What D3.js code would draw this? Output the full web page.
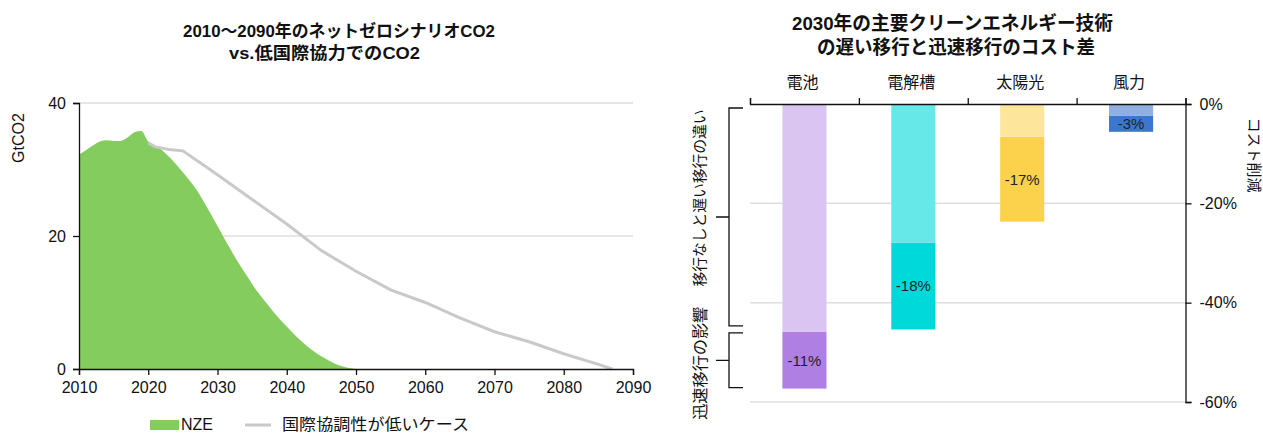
<!DOCTYPE html>
<html><head><meta charset="utf-8">
<script src="https://cdn.jsdelivr.net/npm/d3@7"></script>
<style>
html,body{margin:0;padding:0;background:#fff;}
svg{display:block;font-family:"Liberation Sans","Noto Sans CJK JP",sans-serif;}
</style></head>
<body>
<svg id="chart" width="1263" height="434"></svg>
<script>
// ---------- Left chart data ----------
const nzeYears = [2010,2011,2012,2013,2014,2015,2016,2017,2018,2019,2020,2021,2022,2023,2024,2025,2026,2027,2028,2029,2030,2031,2032,2033,2034,2035,2036,2037,2038,2039,2040,2041,2042,2043,2044,2045,2046,2047,2048,2049,2050];
const nzeValues = [32.2,32.9,33.6,34.2,34.4,34.3,34.3,34.8,35.6,35.8,34.2,33.6,32.9,31.9,30.8,29.6,28.3,26.9,25.2,23.4,21.5,19.6,17.8,16.0,14.4,12.8,11.3,10.0,8.7,7.5,6.4,5.3,4.3,3.4,2.6,1.9,1.3,0.8,0.4,0.15,0];
const lowCoopYears = [2020,2021,2023,2025,2030,2035,2040,2045,2050,2055,2060,2065,2070,2075,2080,2085,2087];
const lowCoopValues = [34.0,33.4,33.0,32.8,29.2,25.5,21.8,17.8,14.7,11.9,10.0,7.7,5.6,4.1,2.3,0.7,0];
const leftXTicks = [2010,2020,2030,2040,2050,2060,2070,2080,2090];
const leftYTicks = [0,20,40];
const leftTitle = ["2010～2090年のネットゼロシナリオCO2","vs.低国際協力でのCO2"];
const leftYLabel = "GtCO2";
const leftLegend = ["NZE","国際協調性が低いケース"];

// ---------- Right chart data ----------
const techCategories = ["電池","電解槽","太陽光","風力"];
const slowTransition = [-45.9,-27.9,-6.6,-2.4];
const rapidTransition = [-57.3,-45.4,-23.7,-5.6];
const rapidLabels = ["-11%","-18%","-17%","-3%"];
const rightYTicks = [0,-20,-40,-60];
const rightTitle = ["2030年の主要クリーンエネルギー技術","の遅い移行と迅速移行のコスト差"];
const bracketLabels = ["移行なしと遅い移行の違い","迅速移行の影響"];
const rightYLabel = "コスト削減";

const lightColors = ["#dac4f1","#66e8e8","#fde69c","#8eafe0"];
const darkColors = ["#b07fe3","#00d9d9","#fcd24c","#3b77d1"];

const svg = d3.select("#chart");

// ================= LEFT CHART =================
const xL = d3.scaleLinear().domain([2010,2090]).range([79,633]);
const yL = d3.scaleLinear().domain([0,40]).range([369,103]);

// titles
const tl = svg.append("g").attr("font-weight","bold").attr("font-size",17).attr("fill","#111")
  .attr("font-family","'Liberation Sans','Noto Sans CJK JP',sans-serif");
tl.append("text").attr("x",183).attr("y",37).attr("textLength",312).attr("lengthAdjust","spacingAndGlyphs").text(leftTitle[0]);
tl.append("text").attr("x",229).attr("y",59).attr("textLength",191).attr("lengthAdjust","spacingAndGlyphs").text(leftTitle[1]);

// gridlines
svg.append("g").selectAll("line").data(leftYTicks.filter(d=>d>0)).join("line")
  .attr("x1",xL(2010)).attr("x2",xL(2090)).attr("y1",d=>yL(d)).attr("y2",d=>yL(d))
  .attr("stroke","#dedede").attr("stroke-width",1.5);

// NZE area
const nzeData = nzeYears.map((y,i)=>({x:y,v:nzeValues[i]}));
svg.append("path").datum(nzeData)
  .attr("d",d3.area().x(d=>xL(d.x)).y0(yL(0)).y1(d=>yL(d.v)).curve(d3.curveMonotoneX))
  .attr("fill","#84cc5e");

// low cooperation line
const lcData = lowCoopYears.map((y,i)=>({x:y,v:lowCoopValues[i]}));
svg.append("path").datum(lcData)
  .attr("d",d3.line().x(d=>xL(d.x)).y(d=>yL(d.v)))
  .attr("fill","none").attr("stroke","#c9c9c9").attr("stroke-width",3);

// axes
const axL = svg.append("g").attr("transform",`translate(${xL(2010)},0)`)
  .call(d3.axisLeft(yL).tickValues(leftYTicks).tickSize(6).tickPadding(7));
const axB = svg.append("g").attr("transform",`translate(0,${yL(0)})`)
  .call(d3.axisBottom(xL).tickValues(leftXTicks).tickFormat(d3.format("d")).tickSize(6).tickPadding(7));
[axL,axB].forEach(a=>{
  a.selectAll("text").attr("font-size",16).attr("fill","#111").attr("font-family","'Liberation Sans',sans-serif");
  a.selectAll("line,path").attr("stroke","#111").attr("stroke-width",1.3);
});

svg.append("text").attr("transform","translate(24,138) rotate(-90)").attr("text-anchor","middle")
  .attr("font-size",16).attr("fill","#111").text(leftYLabel);

// legend
svg.append("rect").attr("x",150).attr("y",420).attr("width",29).attr("height",10).attr("fill","#84cc5e");
svg.append("text").attr("x",181).attr("y",430).attr("font-size",16).attr("fill","#111").text(leftLegend[0]);
svg.append("line").attr("x1",245).attr("x2",271).attr("y1",425).attr("y2",425).attr("stroke","#c9c9c9").attr("stroke-width",3);
svg.append("text").attr("x",282).attr("y",430).attr("font-size",16).attr("fill","#111")
  .attr("textLength",187).attr("lengthAdjust","spacingAndGlyphs").text(leftLegend[1]);

// ================= RIGHT CHART =================
const xR = d3.scaleBand().domain(techCategories).range([750,1185.5]).paddingInner(0.595).paddingOuter(0.2975);
const yR = d3.scaleLinear().domain([-60,0]).range([402,104]);

const tr = svg.append("g").attr("font-weight","bold").attr("font-size",19).attr("fill","#111")
  .attr("font-family","'Liberation Sans','Noto Sans CJK JP',sans-serif");
tr.append("text").attr("x",792).attr("y",30).attr("textLength",321).attr("lengthAdjust","spacingAndGlyphs").text(rightTitle[0]);
tr.append("text").attr("x",817).attr("y",54).attr("textLength",278).attr("lengthAdjust","spacingAndGlyphs").text(rightTitle[1]);

// category labels
svg.append("g").selectAll("text").data(techCategories).join("text")
  .attr("x",d=>xR(d)+xR.bandwidth()/2-2).attr("y",88).attr("text-anchor","middle")
  .attr("font-size",16).attr("fill","#111").text(d=>d);

// gridlines
svg.append("g").selectAll("line").data(rightYTicks.filter(d=>d<0)).join("line")
  .attr("x1",750).attr("x2",1185.5).attr("y1",d=>yR(d)).attr("y2",d=>yR(d))
  .attr("stroke","#dedede").attr("stroke-width",1.5);

// bars: dark (rapid) then light (slow) on top
const bars = svg.append("g");
bars.selectAll("rect.dark").data(techCategories).join("rect").attr("class","dark")
  .attr("x",d=>xR(d)).attr("width",xR.bandwidth())
  .attr("y",(d,i)=>yR(slowTransition[i])).attr("height",(d,i)=>yR(rapidTransition[i])-yR(slowTransition[i]))
  .attr("fill",(d,i)=>darkColors[i]);
bars.selectAll("rect.light").data(techCategories).join("rect").attr("class","light")
  .attr("x",d=>xR(d)).attr("width",xR.bandwidth())
  .attr("y",yR(0)).attr("height",(d,i)=>yR(slowTransition[i])-yR(0))
  .attr("fill",(d,i)=>lightColors[i]);
bars.selectAll("text").data(techCategories).join("text")
  .attr("x",d=>xR(d)+xR.bandwidth()/2).attr("y",(d,i)=>(yR(slowTransition[i])+yR(rapidTransition[i]))/2)
  .attr("dy","0.36em").attr("text-anchor","middle").attr("font-size",15).attr("fill","#222")
  .text((d,i)=>rapidLabels[i]);

// top axis with boundary ticks
const boundary = d3.scaleLinear().domain([0,techCategories.length]).range([750,1185.5]);
const axT = svg.append("g").attr("transform",`translate(0,${yR(0)})`)
  .call(d3.axisTop(boundary).tickValues(d3.range(techCategories.length+1)).tickFormat("").tickSize(6).tickSizeOuter(6));
// right axis
const axR = svg.append("g").attr("transform",`translate(${boundary(techCategories.length)},0)`)
  .call(d3.axisRight(yR).tickValues(rightYTicks).tickFormat(d=>d+"%").tickSize(6).tickPadding(8));
[axT,axR].forEach(a=>{
  a.selectAll("text").attr("font-size",16).attr("fill","#111").attr("font-family","'Liberation Sans',sans-serif");
  a.selectAll("line,path").attr("stroke","#111").attr("stroke-width",1.3);
});

// brackets
const b1Top = yR(0)+4, b1Bot = yR(slowTransition[0])-6;
const b2Top = yR(slowTransition[0])+1, b2Bot = yR(rapidTransition[0])-1;
const br = svg.append("g").attr("stroke","#111").attr("stroke-width",1.3).attr("fill","none");
[[b1Top,b1Bot],[b2Top,b2Bot]].forEach(([t,b])=>{
  const m=(t+b)/2;
  br.append("path").attr("d",`M743,${t}H729V${b}H743M729,${m}H716`);
});
svg.append("text").attr("transform",`translate(705,${(b1Top+b1Bot)/2-19}) rotate(-90)`).attr("text-anchor","middle")
  .attr("font-size",15).attr("fill","#111").attr("textLength",177).attr("lengthAdjust","spacingAndGlyphs").text(bracketLabels[0]);
svg.append("text").attr("transform",`translate(706,${(b2Top+b2Bot)/2+3}) rotate(-90)`).attr("text-anchor","middle")
  .attr("font-size",16).attr("fill","#111").attr("textLength",113).attr("lengthAdjust","spacingAndGlyphs").text(bracketLabels[1]);

svg.append("text").attr("transform","translate(1249,155) rotate(90)").attr("text-anchor","middle")
  .attr("font-size",15).attr("fill","#111").text(rightYLabel);
</script>
</body></html>
